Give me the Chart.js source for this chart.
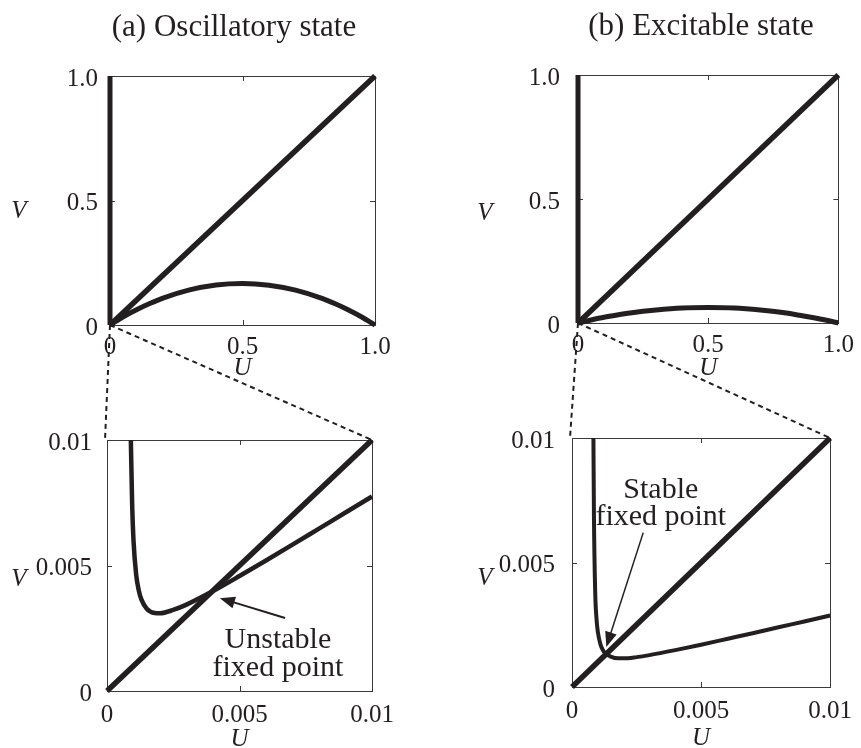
<!DOCTYPE html>
<html>
<head>
<meta charset="utf-8">
<script src="https://cdn.jsdelivr.net/npm/chart.js@4.4.0/dist/chart.umd.min.js"></script>
<style>
  html, body { margin: 0; padding: 0; background: #fff; }
  #wrap { position: relative; width: 861px; height: 748px; }
  #wrap canvas { position: absolute; left: 0; top: 0; }
</style>
</head>
<body>
<div id="wrap">
  <canvas id="topA" width="861" height="748"></canvas>
  <canvas id="topB" width="861" height="748"></canvas>
  <canvas id="zoomA" width="861" height="748"></canvas>
  <canvas id="zoomB" width="861" height="748"></canvas>
</div>
<script>
// tick values and labels
const topTicks = [0, 0.5, 1];
const topTickLabels = ['0', '0.5', '1.0'];
const zoomTicks = [0, 0.005, 0.01];
const zoomTickLabels = ['0', '0.005', '0.01'];

// v-nullcline (V = U), both scales
const diagTopU = [0, 1];
const diagTopV = [0, 1];
const diagZoomU = [0, 0.01];
const diagZoomV = [0, 0.01];

// u-nullcline branch hugging U = 0 on the full scale
const edgeU = [0, 0];
const edgeV = [0, 1];

// u-nullcline hump, full scale
const topU = [0, 0.05, 0.1, 0.15, 0.2, 0.3, 0.4, 0.5, 0.6, 0.7, 0.8, 0.85, 0.9, 0.95, 1.0];
const topVOsc = [0, 0.033, 0.061, 0.086, 0.108, 0.141, 0.161, 0.167, 0.160, 0.140, 0.107, 0.085, 0.060, 0.032, 0];
const topVExc = [0, 0.012, 0.023, 0.032, 0.040, 0.052, 0.060, 0.062, 0.060, 0.052, 0.040, 0.031, 0.022, 0.012, 0];

// u-nullcline near the origin (zoomed)
const zoomUOsc = [0.0009, 0.00095, 0.001, 0.0011, 0.0012, 0.0013, 0.0015, 0.0018, 0.002, 0.0025, 0.003, 0.004, 0.005, 0.006, 0.007, 0.008, 0.009, 0.01];
const zoomVOsc = [0.0100, 0.0074, 0.0060, 0.00464, 0.0040, 0.00364, 0.00328, 0.00311, 0.0031, 0.00323, 0.00344, 0.00398, 0.00458, 0.0052, 0.00583, 0.00647, 0.00711, 0.00775];
const zoomUExc = [0.00083, 0.00085, 0.0009, 0.00095, 0.001, 0.0011, 0.0012, 0.0013, 0.0015, 0.0018, 0.002, 0.0025, 0.003, 0.004, 0.005, 0.006, 0.007, 0.008, 0.009, 0.01];
const zoomVExc = [0.0100, 0.0069, 0.00377, 0.00273, 0.00222, 0.00172, 0.00148, 0.00135, 0.00122, 0.00115, 0.00115, 0.0012, 0.00128, 0.00148, 0.0017, 0.00193, 0.00216, 0.0024, 0.00263, 0.00287];

const INK = '#231f20';
const SERIF = "'Liberation Serif', 'Times New Roman', serif";
const W = 861, H = 748;

Chart.defaults.font.family = SERIF;
Chart.defaults.color = INK;
Chart.defaults.animation = false;

function pts(us, vs) { return us.map((u, i) => ({x: u, y: vs[i]})); }

function line(us, vs, width, smooth) {
  return {
    data: pts(us, vs), borderColor: INK, borderWidth: width, pointRadius: 0,
    fill: false, clip: false, cubicInterpolationMode: smooth ? 'monotone' : 'default', tension: 0
  };
}

function drawArrow(ctx, x0, y0, x1, y1, lw, head) {
  const ang = Math.atan2(y1 - y0, x1 - x0);
  ctx.lineWidth = lw;
  ctx.beginPath();
  ctx.moveTo(x0, y0);
  ctx.lineTo(x1 - Math.cos(ang) * head * 0.8, y1 - Math.sin(ang) * head * 0.8);
  ctx.stroke();
  ctx.beginPath();
  ctx.moveTo(x1, y1);
  ctx.lineTo(x1 - head * Math.cos(ang) + head * 0.4 * Math.sin(ang), y1 - head * Math.sin(ang) - head * 0.4 * Math.cos(ang));
  ctx.lineTo(x1 - head * Math.cos(ang) - head * 0.4 * Math.sin(ang), y1 - head * Math.sin(ang) + head * 0.4 * Math.cos(ang));
  ctx.closePath();
  ctx.fill();
}

const decor = {
  id: 'decor',
  beforeDatasetsDraw(chart) {
    const {ctx, chartArea: a, scales: {x, y}} = chart;
    ctx.save();
    ctx.strokeStyle = '#3a3a3a';
    ctx.lineWidth = 1;
    ctx.strokeRect(Math.round(a.left) + 0.5, Math.round(a.top) + 0.5,
      Math.round(a.right - a.left), Math.round(a.bottom - a.top));
    ctx.beginPath();
    x.ticks.forEach(t => {
      if (t.value === x.min || t.value === x.max) return;
      const px = Math.round(x.getPixelForValue(t.value)) + 0.5;
      ctx.moveTo(px, a.bottom); ctx.lineTo(px, a.bottom - 5);
      ctx.moveTo(px, a.top); ctx.lineTo(px, a.top + 5);
    });
    y.ticks.forEach(t => {
      if (t.value === y.min || t.value === y.max) return;
      const py = Math.round(y.getPixelForValue(t.value)) + 0.5;
      ctx.moveTo(a.left, py); ctx.lineTo(a.left + 5, py);
      ctx.moveTo(a.right, py); ctx.lineTo(a.right - 5, py);
    });
    ctx.stroke();
    ctx.restore();
  },
  afterDraw(chart, args, o) {
    const {ctx, chartArea: a, scales: {x, y}} = chart;
    ctx.save();
    ctx.fillStyle = INK;
    ctx.strokeStyle = INK;
    ctx.textAlign = 'center';
    ctx.textBaseline = 'middle';
    if (o.title) {
      ctx.font = '31px ' + SERIF;
      ctx.fillText(o.title.text, o.title.x, o.title.y);
    }
    ctx.font = 'italic 25px ' + SERIF;
    ctx.fillText('V', o.vLabel.x, o.vLabel.y);
    if (o.zoomFrom) {
      const src = o.zoomFrom();
      const cx = src.scales.x.getPixelForValue(0), cy = src.scales.y.getPixelForValue(0);
      ctx.setLineDash([5, 4]);
      ctx.lineWidth = 2;
      ctx.beginPath();
      ctx.moveTo(cx, cy); ctx.lineTo(a.left - 2, a.top);
      ctx.moveTo(cx, cy); ctx.lineTo(a.right, a.top);
      ctx.stroke();
      ctx.setLineDash([]);
    }
    if (o.note) {
      ctx.font = '30px ' + SERIF;
      o.note.lines.forEach((txt, i) => {
        ctx.fillText(txt, x.getPixelForValue(o.note.u), y.getPixelForValue(o.note.v[i]));
      });
      const ar = o.note.arrow;
      drawArrow(ctx, x.getPixelForValue(ar.from[0]), y.getPixelForValue(ar.from[1]),
        x.getPixelForValue(ar.to[0]), y.getPixelForValue(ar.to[1]), ar.width, 15);
    }
    ctx.restore();
  }
};

function axes(max, ticks, labels, yW, xH, yPad, xPad) {
  return {
    x: {
      type: 'linear', min: 0, max: max,
      afterBuildTicks: s => { s.ticks = ticks.map(v => ({value: v})); },
      afterFit: s => { s.height = xH; },
      grid: {display: false, drawTicks: false}, border: {display: false},
      ticks: {font: {size: 25}, padding: xPad, maxRotation: 0, autoSkip: false, color: INK,
        callback: (v, i) => labels[i]},
      title: {display: true, text: 'U', font: {size: 25, style: 'italic'}, padding: 0, color: INK}
    },
    y: {
      type: 'linear', min: 0, max: max,
      afterBuildTicks: s => { s.ticks = ticks.map(v => ({value: v})); },
      afterFit: s => { s.width = yW; },
      grid: {display: false, drawTicks: false}, border: {display: false},
      ticks: {font: {size: 25}, padding: yPad, labelOffset: 3, autoSkip: false, color: INK,
        callback: (v, i) => labels[i]}
    }
  };
}

// chart area box: l, t, r, b in page pixels
function pad(box, yW, xH) {
  return {left: box.l - yW, top: box.t, right: W - box.r, bottom: H - box.b - xH};
}

function makeChart(id, datasets, box, xH, yPad, xPad, max, ticks, labels, decorOpts) {
  const yW = 100;
  return new Chart(id, {
    type: 'line',
    data: {datasets: datasets},
    options: {
      responsive: false,
      maintainAspectRatio: false,
      layout: {padding: pad(box, yW, xH)},
      plugins: {legend: {display: false}, tooltip: {enabled: false}, decor: decorOpts},
      scales: axes(max, ticks, labels, yW, xH, yPad, xPad)
    },
    plugins: [decor]
  });
}

const topA = makeChart('topA', [
  line(edgeU, edgeV, 5, false),
  line(diagTopU, diagTopV, 5.5, false),
  line(topU, topVOsc, 5, true)
], {l: 110, t: 76, r: 375, b: 325}, 58, 12, 7, 1, topTicks, topTickLabels,
  {title: {text: '(a) Oscillatory state', x: 234, y: 28}, vLabel: {x: 19, y: 211}});

const topB = makeChart('topB', [
  line(edgeU, edgeV, 5, false),
  line(diagTopU, diagTopV, 5.5, false),
  line(topU, topVExc, 5, true)
], {l: 578, t: 75, r: 843, b: 323}, 60, 18, 7, 1, topTicks, topTickLabels,
  {title: {text: '(b) Excitable state', x: 701, y: 27}, vLabel: {x: 485, y: 213}});

makeChart('zoomA', [
  line(diagZoomU, diagZoomV, 5.5, false),
  line(zoomUOsc, zoomVOsc, 4.5, true)
], {l: 107, t: 440, r: 372, b: 691}, 63, 15, 9, 0.01, zoomTicks, zoomTickLabels,
  {vLabel: {x: 19, y: 579}, zoomFrom: () => topA,
   note: {lines: ['Unstable', 'fixed point'], u: 0.00645, v: [0.00203, 0.00092],
     arrow: {from: [0.00672, 0.00291], to: [0.00426, 0.0037], width: 2}}});

makeChart('zoomB', [
  line(diagZoomU, diagZoomV, 5.5, false),
  line(zoomUExc, zoomVExc, 4, true)
], {l: 572, t: 438, r: 837, b: 687}, 66, 17, 9, 0.01, zoomTicks, zoomTickLabels,
  {vLabel: {x: 485, y: 578}, zoomFrom: () => topB,
   note: {lines: ['Stable', 'fixed point'], u: 0.00344, v: [0.0079, 0.00682],
     arrow: {from: [0.00276, 0.0062], to: [0.00133, 0.00161], width: 1.5}}});
</script>
</body>
</html>
